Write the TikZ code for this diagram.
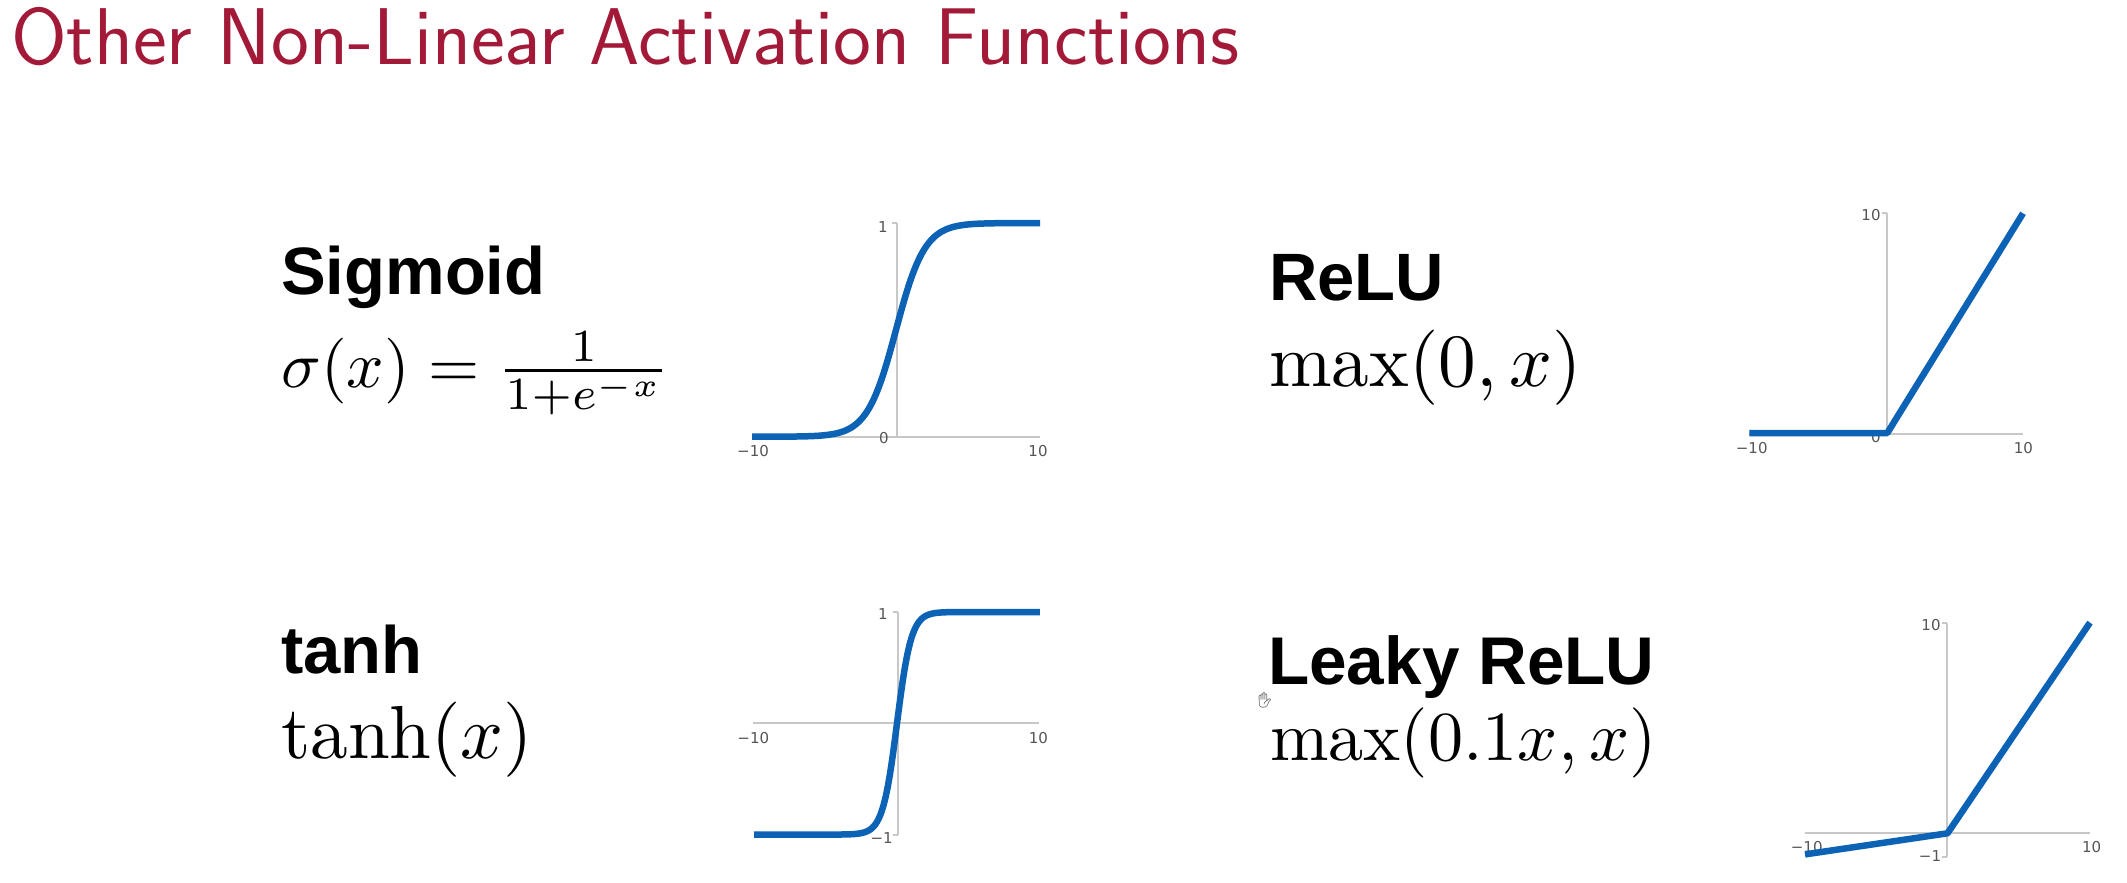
\documentclass[tikz,border=0pt]{standalone}
\usepackage{fontspec}
\newfontfamily\headfont{Liberation Sans}[Scale=1.0]
\newfontfamily\tickfont{DejaVu Sans}
\newfontfamily\emojifont{Noto Emoji}
\definecolor{titlered}{RGB}{163,26,56}
\definecolor{plotblue}{RGB}{12,98,180}
\definecolor{axisgray}{RGB}{200,200,200}
\definecolor{labgray}{RGB}{85,85,85}
\tikzset{declare function={
  sgm(\t)=(\t<0) ? exp(-abs(\t))/(1+exp(-abs(\t))) : 1/(1+exp(-abs(\t)));
  tnh(\t)=((\t<0) ? -1 : 1)*(1-exp(-2*abs(\t)))/(1+exp(-2*abs(\t)));
}}
\newcommand{\bigmath}[2]{\scalebox{#1}{\fontsize{10pt}{12pt}\selectfont$#2$}}
\begin{document}
\begin{tikzpicture}[x=1bp,y=-1bp,
  curve/.style={line width=6.5bp, draw=plotblue, line join=round, line cap=butt},
  axisline/.style={line width=2bp, draw=axisgray},
  ticklab/.style={font=\tickfont\fontsize{15bp}{16bp}\selectfont, text=labgray, inner sep=0pt, anchor=center},
  fname/.style={font=\headfont\bfseries\fontsize{67bp}{70bp}\selectfont, inner sep=0pt, anchor=base west},
  fformula/.style={inner sep=0pt, anchor=base west},
  titlestyle/.style={font=\sffamily\fontsize{80.5bp}{84bp}\selectfont, text=titlered, inner sep=0pt, anchor=base west}]
\useasboundingbox[fill=white] (0,0) rectangle (2127,883);

% title
\node[titlestyle] (title) at (11,64) {Other Non-Linear Activation Functions};

% Sigmoid
\node[fname] (signame) at (281,294) {Sigmoid};
\node[fformula] (sigform) at (281,387) {\bigmath{6.6}{\sigma(x)=\frac{1}{1+e^{-x}}}};

% ReLU
\node[fname] (reluname) at (1269,300) {ReLU};
\node[fformula] (reluform) at (1269,386) {\bigmath{7.55}{\max(0,x)}};

% tanh
\node[fname] (tanhname) at (281,673) {tanh};
\node[fformula] (tanhform) at (281,758) {\bigmath{7.55}{\tanh(x)}};

% Leaky ReLU
\node[fname, font=\headfont\bfseries\fontsize{67.5bp}{70bp}\selectfont] (leakyname) at (1268,684) {Leaky ReLU};
\node[fformula] (leakyform) at (1270,760) {\bigmath{7.05}{\max(0.1x,x)}};
\node[inner sep=0pt, text=black!75, font=\emojifont\fontsize{15bp}{16bp}\selectfont] (cursor) at (1265,700) {✋};

% ---- Sigmoid plot
\draw[axisline] (752,436.7) -- (1040,436.7);
\draw[axisline] (897,436.7) -- (897,223);
\draw[axisline] (892,223) -- (897,223);
\node[ticklab] (s1) at (883,226.7) {1};
\node[ticklab] (s0) at (884,437.7) {0};
\node[ticklab] (sm10) at (753,450.7) {−10};
\node[ticklab] (s10) at (1038,450.7) {10};
\draw[curve] plot[domain=-10:10, samples=161] ({896+14.4*\x}, {436.7-213.7*sgm(\x)});

% ---- ReLU plot
\draw[axisline] (1749.3,434) -- (2023.3,434);
\draw[axisline] (1887.3,434) -- (1887.3,213.3);
\draw[axisline] (1882.3,213.3) -- (1887.3,213.3);
\node[ticklab] (r10) at (1871,215) {10};
\node[ticklab] (r0) at (1876,437.3) {0};
\node[ticklab] (rm10) at (1751.7,448.3) {−10};
\node[ticklab] (rx10) at (2023.3,448.3) {10};
\draw[curve] (1749.3,433) -- (1887.3,433) -- (2023,213.3);

% ---- tanh plot
\draw[axisline] (753.3,723.3) -- (1039.3,723.3);
\draw[axisline] (898,612.3) -- (898,835);
\draw[axisline] (893,612.3) -- (898,612.3);
\draw[axisline] (893,835) -- (898,835);
\node[ticklab] (t1) at (883,614) {1};
\node[ticklab] (tm1) at (881.7,838.3) {−1};
\node[ticklab] (tm10) at (753.3,738.3) {−10};
\node[ticklab] (t10) at (1038.3,738.3) {10};
\draw[curve] plot[domain=-10:10, samples=201] ({897+14.3*\x}, {723.3-111.3*tnh(\x)});

% ---- Leaky ReLU plot
\draw[axisline] (1805,833.3) -- (2090,833.3);
\draw[axisline] (1947.3,856.7) -- (1947.3,622.7);
\draw[axisline] (1942.3,622.7) -- (1947.3,622.7);
\draw[axisline] (1942.3,856.7) -- (1947.3,856.7);
\node[ticklab] (l10) at (1931,625) {10};
\node[ticklab] (lm1) at (1930,856) {−1};
\node[ticklab] (lm10) at (1806.7,846.7) {−10};
\node[ticklab] (lx10) at (2091.7,846.7) {10};
\draw[curve] (1805,854.4) -- (1947.5,833.3) -- (2090,622.6);
\end{tikzpicture}
\end{document}
